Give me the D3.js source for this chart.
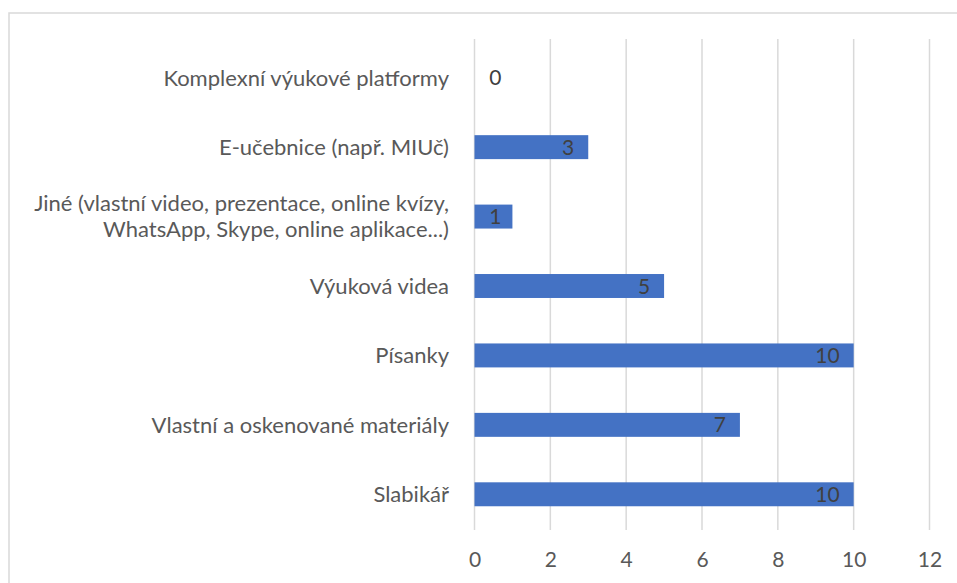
<!DOCTYPE html>
<html><head><meta charset="utf-8">
<script src="https://cdn.jsdelivr.net/npm/d3@7"></script>
<style>body{margin:0;background:#fff;} svg{display:block;}</style>
</head><body>
<svg id="chart" width="957" height="583"></svg>
<script>
const categories = [
  ["Komplexní výukové platformy"],
  ["E-učebnice (např. MIUč)"],
  ["Jiné (vlastní video, prezentace, online kvízy,", "WhatsApp, Skype, online aplikace...)"],
  ["Výuková videa"],
  ["Písanky"],
  ["Vlastní a oskenované materiály"],
  ["Slabikář"]
];
const values = [0, 3, 1, 5, 10, 7, 10];
const tickValues = [0, 2, 4, 6, 8, 10, 12];

const svg = d3.select("#chart");
const font = "Lato, 'Open Sans', sans-serif";
const plotLeft = 474.5, plotRight = 929.5, plotTop = 43, plotBottom = 529;

svg.append("rect").attr("x", 9).attr("y", 13).attr("width", 960).attr("height", 600)
  .attr("fill", "#fff").attr("stroke", "#d9d9d9").attr("stroke-width", 1.5);

const x = d3.scaleLinear().domain([0, 12]).range([plotLeft, plotRight]);
const y = d3.scaleBand().domain(d3.range(categories.length)).range([plotTop, plotBottom]).paddingInner(0.655).paddingOuter(0.3275);

// gridlines
svg.append("g").selectAll("line").data(tickValues).join("line")
  .attr("x1", d => x(d)).attr("x2", d => x(d))
  .attr("y1", plotTop - 4).attr("y2", plotBottom + 1)
  .attr("stroke", "#d9d9d9").attr("stroke-width", 1.5);

// x axis tick labels
const xAxis = d3.axisBottom(x).tickValues(tickValues).tickSize(0).tickPadding(0);
const gx = svg.append("g").attr("transform", `translate(0,${plotBottom + 38})`).call(xAxis);
gx.select(".domain").remove();
gx.selectAll("text").attr("font-family", font).attr("font-size", 21).attr("fill", "#595959").attr("dy", "0");

// bars
svg.append("g").selectAll("rect").data(values).join("rect")
  .attr("x", x(0)).attr("y", (d, i) => y(i))
  .attr("width", d => x(d) - x(0)).attr("height", y.bandwidth())
  .attr("fill", "#4472C4");

// value labels
svg.append("g").selectAll("text").data(values).join("text")
  .attr("x", d => Math.max(x(d) - 14, x(0) + 27))
  .attr("y", (d, i) => y(i) + y.bandwidth() / 2)
  .attr("dy", "0.36em").attr("text-anchor", "end")
  .attr("font-family", font).attr("font-size", 21).attr("fill", "#404040")
  .text(d => d);

// category labels
const cat = svg.append("g").selectAll("text").data(categories).join("text")
  .attr("text-anchor", "end").attr("font-family", font).attr("font-size", 22).attr("fill", "#595959")
  .attr("transform", (d, i) => `translate(449,${y(i) + y.bandwidth() / 2})`);
cat.selectAll("tspan").data(d => d.map((t, j) => ({t, j, n: d.length}))).join("tspan")
  .attr("x", 0).attr("y", d => (d.j - (d.n - 1) / 2) * 26).attr("dy", "0.36em")
  .text(d => d.t);
</script>
</body></html>
